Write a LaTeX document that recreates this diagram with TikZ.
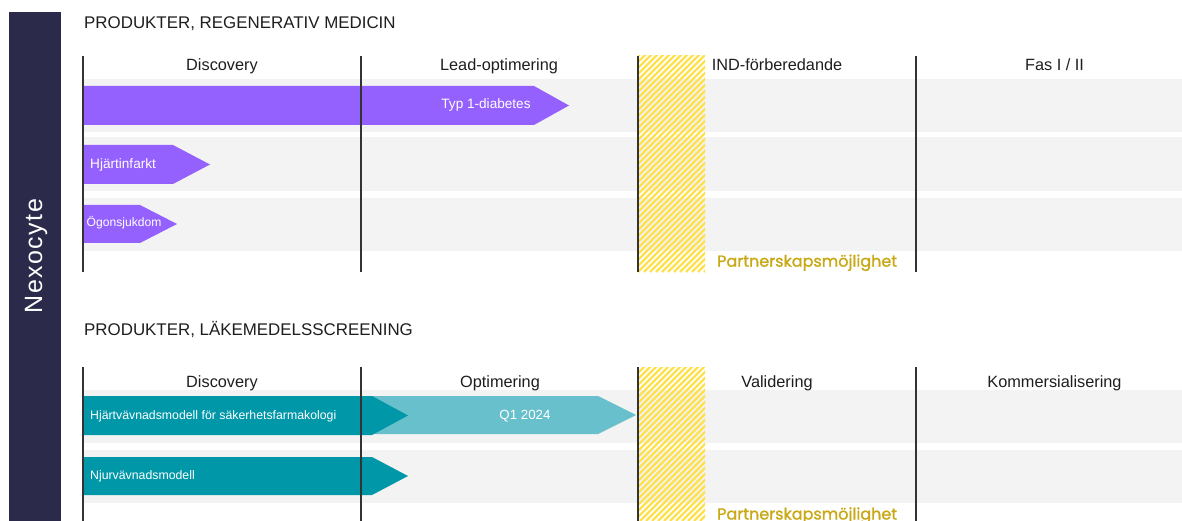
\documentclass[tikz,border=0pt]{standalone}
\usepackage{fontspec}
\setmainfont{Liberation Sans}
\newfontfamily\popfont{Poppins}[FakeBold=1.2]
\newfontfamily\brandfont{Liberation Sans}[LetterSpace=6]

\definecolor{brandbar}{HTML}{2B2A4B}
\definecolor{bandgray}{HTML}{F3F3F3}
\definecolor{regpurple}{HTML}{9461FE}
\definecolor{tealdark}{HTML}{0097A9}
\definecolor{teallight}{HTML}{67C0CB}
\definecolor{hatchyellow}{HTML}{FFE14D}
\definecolor{partnergold}{HTML}{C8A814}
\definecolor{phaseline}{HTML}{333333}
\definecolor{inktext}{HTML}{1E1E1E}

\tikzset{
  sectiontitle/.style={anchor=base west, inner sep=0pt, text=inktext,
    font=\fontsize{16.9}{19}\selectfont},
  phasehead/.style={anchor=base, inner sep=0pt, text=inktext,
    font=\fontsize{16.3}{19}\selectfont},
  band/.style={fill=bandgray},
  divider/.style={draw=phaseline, line width=1.2pt},
  hatchline/.style={draw=hatchyellow, line width=2.2pt},
  barlabel/.style={anchor=base west, inner sep=0pt, text=white},
  partner/.style={anchor=base west, inner sep=0pt, text=partnergold,
    font=\popfont\fontsize{16}{18}\selectfont},
}

\begin{document}
\begin{tikzpicture}[x=1pt, y=-1pt]
\useasboundingbox (0,0) rectangle (1182,521);

% brand bar on the left
\fill[brandbar] (9,12) rectangle (61,521);
\node[rotate=90, text=white, inner sep=0pt,
  font=\brandfont\fontsize{25}{29}\selectfont] (brand) at (36,256) {Nexocyte};

% ---------------- regenerative medicine ----------------
\node[sectiontitle] (regtitle) at (84,28.5) {PRODUKTER, REGENERATIV MEDICIN};

\fill[band] (83,79) rectangle (1182,132);
\fill[band] (83,137) rectangle (1182,191);
\fill[band] (83,198) rectangle (1182,251);

\begin{scope}
  \clip (638,56) rectangle (705,272);
  \foreach \k in {0,...,50}
    \draw[hatchline] ({422+6*\k},272) -- ++(220,-220);
\end{scope}

\fill[regpurple] (83,86) -- (534,86) -- (569,105.5) -- (534,125) -- (83,125) -- cycle;
\fill[regpurple] (83,145) -- (173,145) -- (210,164.5) -- (173,184) -- (83,184) -- cycle;
\fill[regpurple] (83,205) -- (140,205) -- (177,224) -- (140,243) -- (83,243) -- cycle;

\foreach \x/\n in {83/a, 361/b, 638/c, 916/d}
  \draw[divider] (\x,56) coordinate (rtop\n) -- (\x,272) coordinate (rbot\n);

\node[phasehead] (rdisc) at (222,70.5) {Discovery};
\node[phasehead] (rlead) at (499,70.5) {Lead-optimering};
\node[phasehead] (rind)  at (777,70.5) {IND-förberedande};
\node[phasehead] (rfas)  at (1054.5,70.5) {Fas I / II};

\node[barlabel, anchor=base, font=\fontsize{13.6}{16}\selectfont] (typ1) at (486,109) {Typ 1-diabetes};
\node[barlabel, font=\fontsize{13.6}{16}\selectfont] (heart) at (90,168.3) {Hjärtinfarkt};
\node[barlabel, font=\fontsize{12.1}{14}\selectfont] (eye) at (86.5,226.7) {Ögonsjukdom};

\node[partner] (rpartner) at (717,266.7) {Partnerskapsmöjlighet};

% ---------------- drug screening ----------------
\node[sectiontitle] (scrtitle) at (84,335.5) {PRODUKTER, LÄKEMEDELSSCREENING};

\fill[band] (83,390) rectangle (1182,443);
\fill[band] (83,450) rectangle (1182,503);

\begin{scope}
  \clip (638,367) rectangle (705,521);
  \foreach \k in {0,...,40}
    \draw[hatchline] ({484+6*\k},521) -- ++(160,-160);
\end{scope}

\fill[teallight] (83,396) -- (598,396) -- (636,415) -- (598,434) -- (83,434) -- cycle;
\fill[tealdark] (83,396) -- (372,396) -- (408,415.5) -- (372,435) -- (83,435) -- cycle;
\fill[tealdark] (83,457) -- (372,457) -- (408,476) -- (372,495) -- (83,495) -- cycle;

\foreach \x/\n in {83/a, 361/b, 638/c, 916/d}
  \draw[divider] (\x,367) coordinate (stop\n) -- (\x,521) coordinate (sbot\n);

\node[phasehead] (sdisc) at (222,387) {Discovery};
\node[phasehead] (sopt)  at (500,387) {Optimering};
\node[phasehead] (sval)  at (777,387) {Validering};
\node[phasehead] (skom)  at (1054.5,387) {Kommersialisering};

\node[barlabel, font=\fontsize{12.3}{14}\selectfont] (heartmodel) at (90,419) {Hjärtvävnadsmodell för säkerhetsfarmakologi};
\node[barlabel, anchor=base, font=\fontsize{13.3}{16}\selectfont] (q1) at (525,419.3) {Q1 2024};
\node[barlabel, font=\fontsize{12.3}{14}\selectfont] (kidney) at (90,479.3) {Njurvävnadsmodell};

\node[partner] (spartner) at (717,519.5) {Partnerskapsmöjlighet};
\end{tikzpicture}
\end{document}
